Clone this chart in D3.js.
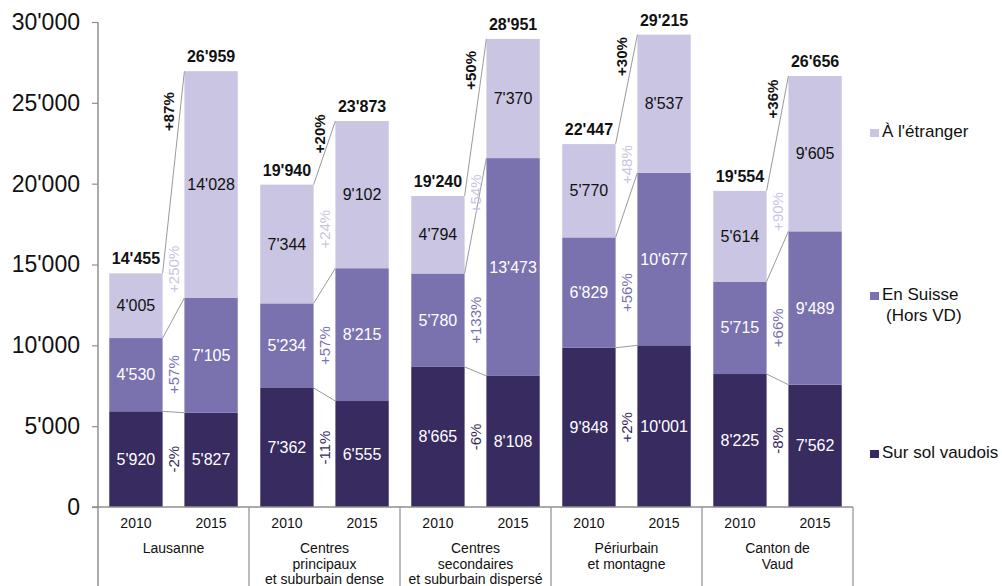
<!DOCTYPE html>
<html>
<head>
<meta charset="utf-8">
<script src="https://cdn.jsdelivr.net/npm/d3@7"></script>
<style>
  html, body { margin: 0; padding: 0; background: #fff; }
  svg { display: block; font-family: "Liberation Sans", Arial, sans-serif; }
</style>
</head>
<body>
<svg id="chart" width="1002" height="586"></svg>
<script>
// ---------- data ----------
const categoryLines = [
  ["Lausanne"],
  ["Centres", "principaux", "et suburbain dense"],
  ["Centres", "secondaires", "et suburbain dispersé"],
  ["Périurbain", "et montagne"],
  ["Canton de", "Vaud"]
];
const years = ["2010", "2015"];
const seriesNames = ["Sur sol vaudois", "En Suisse (Hors VD)", "À l'étranger"];
const legendLines = [["Sur sol vaudois"], ["En Suisse", "(Hors VD)"], ["À l'étranger"]];

const solVaudois2010 = [5920, 7362, 8665, 9848, 8225];
const solVaudois2015 = [5827, 6555, 8108, 10001, 7562];
const suisse2010     = [4530, 5234, 5780, 6829, 5715];
const suisse2015     = [7105, 8215, 13473, 10677, 9489];
const etranger2010   = [4005, 7344, 4794, 5770, 5614];
const etranger2015   = [14028, 9102, 7370, 8537, 9605];
const totals2010     = [14455, 19940, 19240, 22447, 19554];
const totals2015     = [26959, 23873, 28951, 29215, 26656];

const pctSol      = ["-2%", "-11%", "-6%", "+2%", "-8%"];
const pctSuisse   = ["+57%", "+57%", "+133%", "+56%", "+66%"];
const pctEtranger = ["+250%", "+24%", "+54%", "+48%", "+90%"];
const pctTotal    = ["+87%", "+20%", "+50%", "+30%", "+36%"];

const yTicks = [0, 5000, 10000, 15000, 20000, 25000, 30000];

// ---------- styles ----------
const colors = ["#382b60", "#7a72ae", "#c9c5e2"];
const labelColors = ["#fff", "#fff", "#111"];
const pctColors = ["#382b60", "#7a72ae", "#c9c5e2"];
const gridColor = "#8f8f8f";

const fmt = d3.formatLocale({decimal: ".", thousands: "'", grouping: [3], currency: ["", ""]}).format(",");

const svg = d3.select("#chart");

// ---------- scales ----------
const y = d3.scaleLinear().domain([0, 30000]).range([507, 22]);
const x0 = d3.scaleBand().domain(d3.range(categoryLines.length)).range([98, 853]).padding(0);
const x1 = d3.scaleBand().domain(years).range([0, x0.bandwidth()]).paddingInner(0.29).paddingOuter(0.15);

// build table
const table = d3.range(categoryLines.length).map(i => ({
  i,
  y2010: [solVaudois2010[i], suisse2010[i], etranger2010[i]],
  y2015: [solVaudois2015[i], suisse2015[i], etranger2015[i]],
  t2010: totals2010[i],
  t2015: totals2015[i]
}));

function stacks(vals, total) {
  let c = 0;
  const out = vals.map(v => { const s = {y0: c, y1: c + v, v}; c += v; return s; });
  out[out.length - 1].y1 = total;
  return out;
}

// ---------- axis ----------
const axis = d3.axisLeft(y).tickValues(yTicks).tickFormat(fmt).tickSize(6).tickPadding(12);
const gAxis = svg.append("g").attr("transform", "translate(98,0)").call(axis);
gAxis.select(".domain").remove();
gAxis.selectAll(".tick line").attr("stroke", gridColor).attr("stroke-width", 1.2);
gAxis.selectAll(".tick text").attr("fill", "#111").style("font-size", "23px")
  .style("font-family", "'Liberation Sans', Arial, sans-serif");

svg.append("line").attr("x1", 98).attr("x2", 98).attr("y1", y(30000)).attr("y2", 586)
  .attr("stroke", gridColor).attr("stroke-width", 1.5);

// ---------- bars ----------
const g = svg.append("g");
table.forEach(d => {
  const gx = x0(d.i);
  const s10 = stacks(d.y2010, d.t2010);
  const s15 = stacks(d.y2015, d.t2015);
  const xa = gx + x1("2010"), xb = gx + x1("2015"), bw = x1.bandwidth();

  [[s10, xa], [s15, xb]].forEach(([st, bx]) => {
    st.forEach((s, k) => {
      g.append("rect").attr("x", bx).attr("y", y(s.y1)).attr("width", bw)
        .attr("height", y(s.y0) - y(s.y1)).attr("fill", colors[k]);
      g.append("text").attr("x", bx + bw / 2).attr("y", (y(s.y0) + y(s.y1)) / 2)
        .attr("text-anchor", "middle").attr("dominant-baseline", "central")
        .attr("fill", labelColors[k]).style("font-size", "16px").text(fmt(s.v));
    });
  });

  // totals
  [[d.t2010, xa], [d.t2015, xb]].forEach(([t, bx]) => {
    g.append("text").attr("x", bx + bw / 2).attr("y", y(t) - 9)
      .attr("text-anchor", "middle").attr("fill", "#111")
      .style("font-size", "16px").style("font-weight", "bold").text(fmt(t));
  });

  // connectors
  for (let k = 0; k < 3; k++) {
    g.append("line").attr("x1", xa + bw).attr("y1", y(s10[k].y1))
      .attr("x2", xb).attr("y2", y(s15[k].y1))
      .attr("stroke", "#9a9a9a").attr("stroke-width", 1);
  }

  // percent labels (rotated)
  const gapC = (xa + bw + xb) / 2;
  const mid = s => (y(s.y0) + y(s.y1)) / 2;
  const pctY = [
    mid(s10[0]),
    mid(s10[1]),
    0.7 * mid(s10[2]) + 0.3 * mid(s15[2])
  ];
  const pcts = [pctSol[d.i], pctSuisse[d.i], pctEtranger[d.i]];
  pcts.forEach((p, k) => {
    g.append("text").attr("transform", `translate(${gapC},${pctY[k]}) rotate(-90)`)
      .attr("text-anchor", "middle").attr("dominant-baseline", "central")
      .attr("fill", pctColors[k]).style("font-size", "15px").text(p);
  });
  const ty = 0.2 * y(d.t2010) + 0.8 * y(d.t2015);
  g.append("text").attr("transform", `translate(${gapC - 5},${ty}) rotate(-90)`)
    .attr("text-anchor", "middle").attr("dominant-baseline", "central")
    .attr("fill", "#111").style("font-size", "15px").style("font-weight", "bold").text(pctTotal[d.i]);
});

// ---------- baseline & category box ----------
svg.append("line").attr("x1", 92).attr("x2", x0.range()[1]).attr("y1", y(0)).attr("y2", y(0))
  .attr("stroke", gridColor).attr("stroke-width", 1.5);
d3.range(1, categoryLines.length + 1).forEach(i => {
  const xx = i < categoryLines.length ? x0(i) : x0.range()[1];
  svg.append("line").attr("x1", xx).attr("x2", xx).attr("y1", y(0)).attr("y2", 586)
    .attr("stroke", gridColor).attr("stroke-width", 1.2);
});

table.forEach(d => {
  const gx = x0(d.i);
  years.forEach(yr => {
    svg.append("text").attr("x", gx + x1(yr) + x1.bandwidth() / 2).attr("y", 528)
      .attr("text-anchor", "middle").attr("fill", "#111").style("font-size", "14px").text(yr);
  });
  categoryLines[d.i].forEach((ln, j) => {
    svg.append("text").attr("x", gx + x0.bandwidth() / 2).attr("y", 553 + j * 15.5)
      .attr("text-anchor", "middle").attr("fill", "#111").style("font-size", "14px").text(ln);
  });
});

// ---------- legend ----------
const legendBaselines = [458, 300, 137];
legendLines.forEach((lines, k) => {
  const by = legendBaselines[k];
  svg.append("rect").attr("x", 870).attr("y", by - 8).attr("width", 9).attr("height", 8).attr("fill", colors[k]);
  lines.forEach((ln, j) => {
    svg.append("text").attr("x", 882 + (j > 0 ? 4 : 0)).attr("y", by + j * 21)
      .attr("fill", "#111").style("font-size", "17px").text(ln);
  });
});
</script>
</body>
</html>
